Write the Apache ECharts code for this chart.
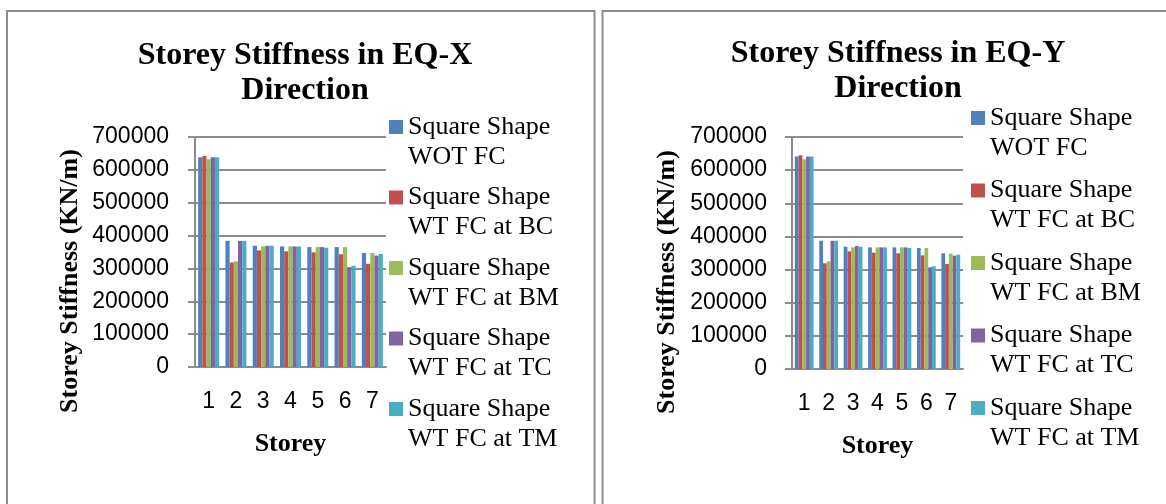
<!DOCTYPE html>
<html>
<head>
<meta charset="utf-8">
<script src="https://cdn.jsdelivr.net/npm/echarts@6/dist/echarts.min.js"></script>
<style>
html,body{margin:0;padding:0;background:#fff;}
#c{width:1166px;height:504px;}
</style>
</head>
<body>
<div id="c"></div>
<script>
// ---- data ----
const categories = ['1', '2', '3', '4', '5', '6', '7'];
const seriesNames = [
  'Square Shape\nWOT FC',
  'Square Shape\nWT FC at BC',
  'Square Shape\nWT FC at BM',
  'Square Shape\nWT FC at TC',
  'Square Shape\nWT FC at TM'
];
const yTicks = [0, 100000, 200000, 300000, 400000, 500000, 600000, 700000];

// EQ-X direction
const eqxWOT = [638000, 384000, 369000, 367000, 365000, 365000, 347000];
const eqxBC  = [642000, 318000, 355000, 352000, 349000, 343000, 314000];
const eqxBM  = [632000, 322000, 367000, 367000, 365000, 365000, 347000];
const eqxTC  = [638000, 384000, 369000, 367000, 365000, 304000, 339000];
const eqxTM  = [638000, 384000, 369000, 367000, 363000, 308000, 344000];

// EQ-Y direction
const eqyWOT = [641000, 387000, 369000, 367000, 367000, 365000, 349000];
const eqyBC  = [645000, 319000, 355000, 351000, 349000, 343000, 317000];
const eqyBM  = [633000, 325000, 367000, 367000, 367000, 365000, 348000];
const eqyTC  = [641000, 387000, 371000, 367000, 367000, 307000, 342000];
const eqyTM  = [641000, 387000, 369000, 367000, 365000, 310000, 345000];

const colors = ['#4F81BD', '#C0504D', '#9BBB59', '#8064A2', '#4BACC6'];

// ---- chart ----
const chart = echarts.init(document.getElementById('c'), null, {renderer: 'canvas'});
const serif = 'Liberation Serif';
const sans = 'Liberation Sans';
const gridColor = '#8c8c8c';

function xAxis(gridIndex, nameGap) {
  return {
    type: 'category', gridIndex: gridIndex, data: categories,
    name: 'Storey', nameLocation: 'middle', nameGap: nameGap,
    nameTextStyle: {fontFamily: serif, fontWeight: 'bold', fontSize: 26, color: '#000'},
    axisLine: {lineStyle: {color: gridColor, width: 2}},
    axisTick: {show: false},
    axisLabel: {fontFamily: sans, fontSize: 23, color: '#000', margin: 23}
  };
}
function yAxis(gridIndex, nameGap, labelMargin) {
  return {
    type: 'value', gridIndex: gridIndex, min: 0, max: yTicks[yTicks.length - 1], interval: yTicks[1] - yTicks[0],
    name: 'Storey Stiffness (KN/m)', nameLocation: 'middle', nameGap: nameGap,
    nameTextStyle: {fontFamily: serif, fontWeight: 'bold', fontSize: 26, color: '#000', padding: [0, 58, 0, 0]},
    axisLine: {show: true, lineStyle: {color: gridColor, width: 2}},
    axisTick: {show: true, inside: false, length: 7, lineStyle: {color: gridColor, width: 2}},
    axisLabel: {fontFamily: sans, fontSize: 23, color: '#000', margin: labelMargin,
                formatter: function (v) { return String(v); }},
    splitLine: {show: true, lineStyle: {color: gridColor, width: 2}}
  };
}
function barSeries(name, data, idx, axisIndex) {
  return {
    type: 'bar', name: name, data: data,
    xAxisIndex: axisIndex, yAxisIndex: axisIndex,
    barGap: '0%', barCategoryGap: '23%',
    itemStyle: {color: colors[idx]},
    animation: false
  };
}
const legendIcon = 'path://M0,0L14,0M0,8L14,8L14,22L0,22ZM0,60L14,60';
function legend(left, top, gap) {
  return {
    orient: 'vertical', left: left, top: top, itemGap: gap, padding: 0,
    itemWidth: 14, itemHeight: 60, icon: legendIcon,
    data: seriesNames,
    textStyle: {fontFamily: serif, fontSize: 26, lineHeight: 30, color: '#000'}
  };
}

const xSets = [eqxWOT, eqxBC, eqxBM, eqxTC, eqxTM];
const ySets = [eqyWOT, eqyBC, eqyBM, eqyTC, eqyTM];
const series = [];
xSets.forEach((d, i) => series.push(barSeries(seriesNames[i], d, i, 0)));
ySets.forEach((d, i) => series.push(barSeries(seriesNames[i], d, i, 1)));

chart.setOption({
  animation: false,
  backgroundColor: '#fff',
  title: [
    {text: 'Storey Stiffness in EQ-X\nDirection', left: 300, top: 33, textAlign: 'center',
     textStyle: {fontFamily: serif, fontWeight: 'bold', fontSize: 32, lineHeight: 35, color: '#000'}},
    {text: 'Storey Stiffness in EQ-Y\nDirection', left: 893, top: 31, textAlign: 'center',
     textStyle: {fontFamily: serif, fontWeight: 'bold', fontSize: 32, lineHeight: 35, color: '#000'}}
  ],
  legend: [legend(389, 112, 10.5), legend(971, 103, 12.5)],
  grid: [
    {left: 195, top: 137, width: 191, height: 230, containLabel: false},
    {left: 792, top: 137, width: 171, height: 232, containLabel: false}
  ],
  xAxis: [xAxis(0, 64), xAxis(1, 64)],
  yAxis: [yAxis(0, 112, 26), yAxis(1, 112, 25)],
  series: series,
  graphic: [
    {type: 'rect', shape: {x: 7, y: 11, width: 587.5, height: 520}, style: {fill: null, stroke: '#8c8c8c', lineWidth: 2}, silent: true},
    {type: 'rect', shape: {x: 602.5, y: 11, width: 600, height: 520}, style: {fill: null, stroke: '#8c8c8c', lineWidth: 2}, silent: true}
  ]
});
</script>
</body>
</html>
